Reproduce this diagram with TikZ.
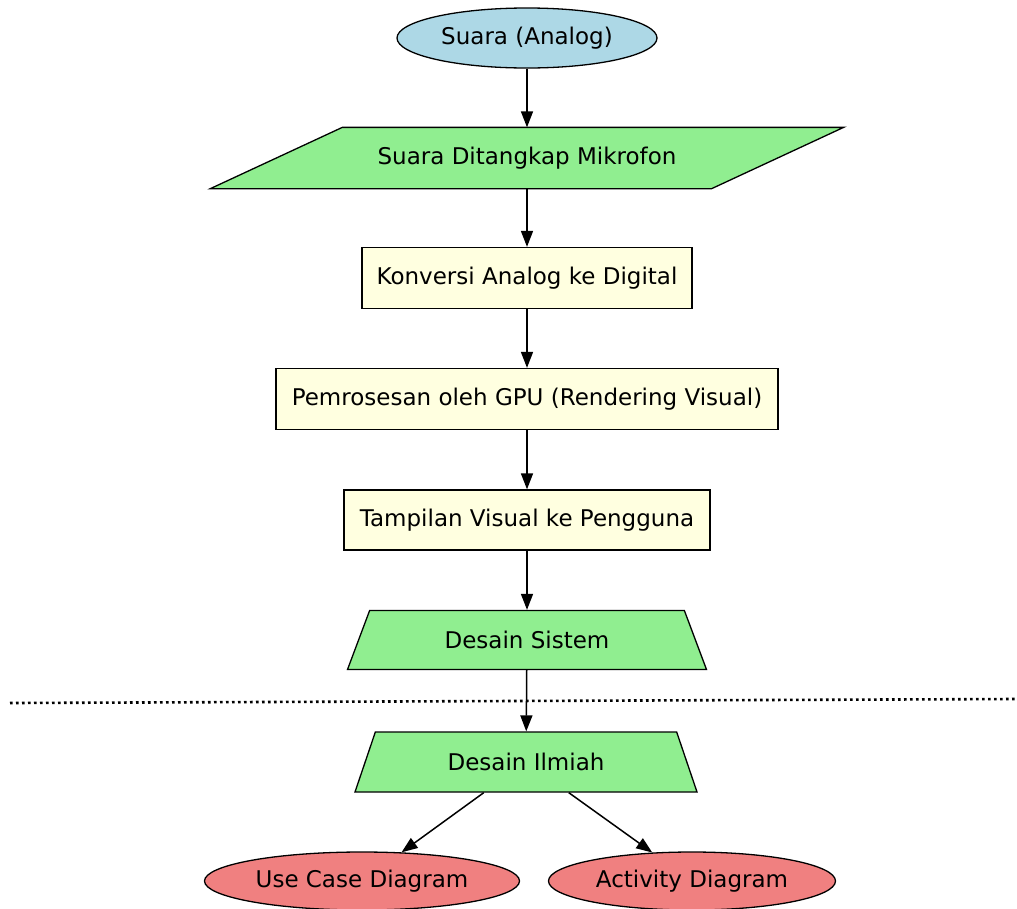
\documentclass[tikz,border=0pt]{standalone}
\usepackage{fontspec}
\setmainfont{DejaVu Sans}
\usetikzlibrary{shapes.geometric,arrows.meta,backgrounds}

\definecolor{soundblue}{HTML}{ADD8E6}
\definecolor{inputgreen}{HTML}{90EE90}
\definecolor{stepyellow}{HTML}{FFFFE0}
\definecolor{diagramred}{HTML}{F08080}

\tikzset{
    base/.style={draw, line width=1.3pt, inner sep=0pt, font=\fontsize{23}{27}\selectfont},
    oval/.style={base, ellipse},
    io/.style={base, rectangle, draw=none},
    iobox/.style={draw, line width=1.3pt, fill=inputgreen},
    process/.style={base, rectangle, fill=stepyellow},
    design/.style={base, trapezium, trapezium stretches body, fill=inputgreen},
    flow/.style={-{Triangle[length=16pt,width=12pt]}, line width=1.5pt},
    separator/.style={line width=2.6pt, dash pattern=on 2.6pt off 3.4pt},
}

\begin{document}
\begin{tikzpicture}[x=1pt, y=-1pt]
        \useasboundingbox (0, 0) rectangle (1017, 908);
        \node[oval, fill=soundblue, minimum width=260pt, minimum height=60pt] (analog) at (527, 38) {Suara (Analog)};
        \node[io, minimum width=500pt, minimum height=60pt] (mic) at (527, 158) {Suara Ditangkap Mikrofon};
        \begin{scope}[on background layer]
            \draw[iobox] ([xshift=66pt]mic.north west) -- ([xshift=66pt]mic.north east)
                -- ([xshift=-66pt]mic.south east) -- ([xshift=-66pt]mic.south west) -- cycle;
        \end{scope}
        \node[process, minimum width=330pt, minimum height=61pt] (adc) at (527, 278) {Konversi Analog ke Digital};
        \node[process, minimum width=502pt, minimum height=61pt] (gpu) at (527, 399) {Pemrosesan oleh GPU (Rendering Visual)};
        \node[process, minimum width=366pt, minimum height=60pt] (view) at (527, 520) {Tampilan Visual ke Pengguna};
        \node[design, trapezium angle=38.8, minimum width=359pt, minimum height=59pt] (system) at (527, 640) {Desain Sistem};
        \node[design, trapezium angle=41.2, minimum width=342pt, minimum height=60pt] (science) at (526, 762) {Desain Ilmiah};
        \node[oval, fill=diagramred, minimum width=315pt, minimum height=58pt] (usecase) at (362, 881) {Use Case Diagram};
        \node[oval, fill=diagramred, minimum width=287pt, minimum height=58pt] (activity) at (692, 881) {Activity Diagram};

        \draw[separator] (10, 703) -- (1015, 699);

        \draw[flow] (analog) -- (mic);
        \draw[flow] (mic) -- (adc);
        \draw[flow] (adc) -- (gpu);
        \draw[flow] (gpu) -- (view);
        \draw[flow] (view) -- (system);
        \draw[flow] (system) -- (science);
        \draw[flow] (science) -- (usecase);
        \draw[flow] (science) -- (activity);
    \end{tikzpicture}
\end{document}
